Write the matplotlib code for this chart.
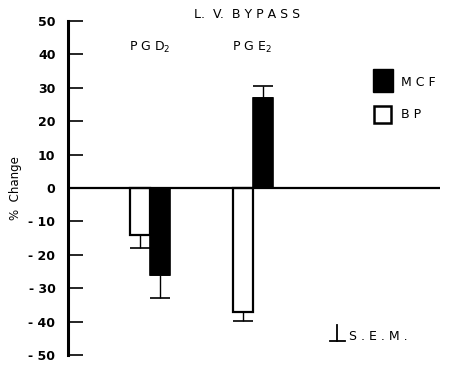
import numpy as np
import matplotlib.pyplot as plt
from matplotlib.patches import Rectangle

plt.rcParams['font.family'] = ['Liberation Sans Narrow', 'DejaVu Sans']

groups = ['P G D$_2$', 'P G E$_2$']
bp = [-14, -37]
bp_err = [4, 2.7]
mcf = [-26, 27]
mcf_err = [6.8, 3.6]
yticks = [50, 40, 30, 20, 10, 0, -10, -20, -30, -40, -50]
ytick_labels = ['50', '40', '30', '20', '10', '0', '- 10', '- 20', '- 30', '- 40', '- 50']

W, H = 453, 365
fig = plt.figure(figsize=(W / 100, H / 100), dpi=100)
ax = fig.add_axes([68 / W, 1 - 355 / H, 372 / W, 334 / H])

centers = np.array([4.1, 9.25])
bw = 0.97

def errs(vals, e):
    # one-sided error away from zero
    lo = [ee if v < 0 else 0 for v, ee in zip(vals, e)]
    hi = [ee if v >= 0 else 0 for v, ee in zip(vals, e)]
    return [lo, hi]

ax.bar(centers - 0.5, bp, bw, color='white', edgecolor='black', linewidth=1.6, zorder=2)
ax.bar(centers + 0.5, mcf, bw, color='black', edgecolor='black', linewidth=1.2, zorder=2)
ax.errorbar(centers - 0.5, bp, yerr=errs(bp, bp_err), fmt='none', ecolor='black',
            elinewidth=1.0, capsize=7, capthick=1.2, zorder=1)
ax.errorbar(centers + 0.5, mcf, yerr=errs(mcf, mcf_err), fmt='none', ecolor='black',
            elinewidth=1.0, capsize=7, capthick=1.2, zorder=1)

ax.axhline(0, color='black', linewidth=1.6, zorder=3)

ax.set_xlim(0, 18.6)
ax.set_ylim(-50, 50)
ax.set_yticks(yticks)
ax.set_yticklabels(ytick_labels, fontsize=9, fontweight='bold')
ax.set_xticks([])
for s in ['top', 'right', 'bottom']:
    ax.spines[s].set_visible(False)
ax.spines['left'].set_linewidth(2.2)
ax.tick_params(axis='y', direction='in', length=11, width=1.2, pad=9)
ax.set_ylabel('%  Change', fontsize=8.5)
ax.yaxis.set_label_coords(-0.124, 0.5)

for c, g in zip(centers, groups):
    ax.text(c - 1.05, 42, g, fontsize=9, ha='left', va='center')

fig.text(247 / W, 1 - 15 / H, 'L.  V.  B Y P A S S', fontsize=9, ha='center', va='center')

# legend
fig.patches.append(Rectangle((373 / W, 1 - 92 / H), 20 / W, 23 / H, facecolor='black',
                             edgecolor='black', transform=fig.transFigure))
fig.patches.append(Rectangle((374 / W, 1 - 123 / H), 17 / W, 17 / H, facecolor='white',
                             edgecolor='black', linewidth=1.8, transform=fig.transFigure))
fig.text(401 / W, 1 - 82 / H, 'M C F', fontsize=9, ha='left', va='center')
fig.text(401 / W, 1 - 114 / H, 'B P', fontsize=9, ha='left', va='center')

# S.E.M. key
fig.add_artist(plt.Line2D([337 / W, 337 / W], [1 - 325 / H, 1 - 341 / H], color='black', lw=1.3))
fig.add_artist(plt.Line2D([330 / W, 345 / W], [1 - 341 / H, 1 - 341 / H], color='black', lw=1.3))
fig.text(349 / W, 1 - 337 / H, 'S . E . M .', fontsize=9, ha='left', va='center')

fig.savefig('out.png', dpi=100)
